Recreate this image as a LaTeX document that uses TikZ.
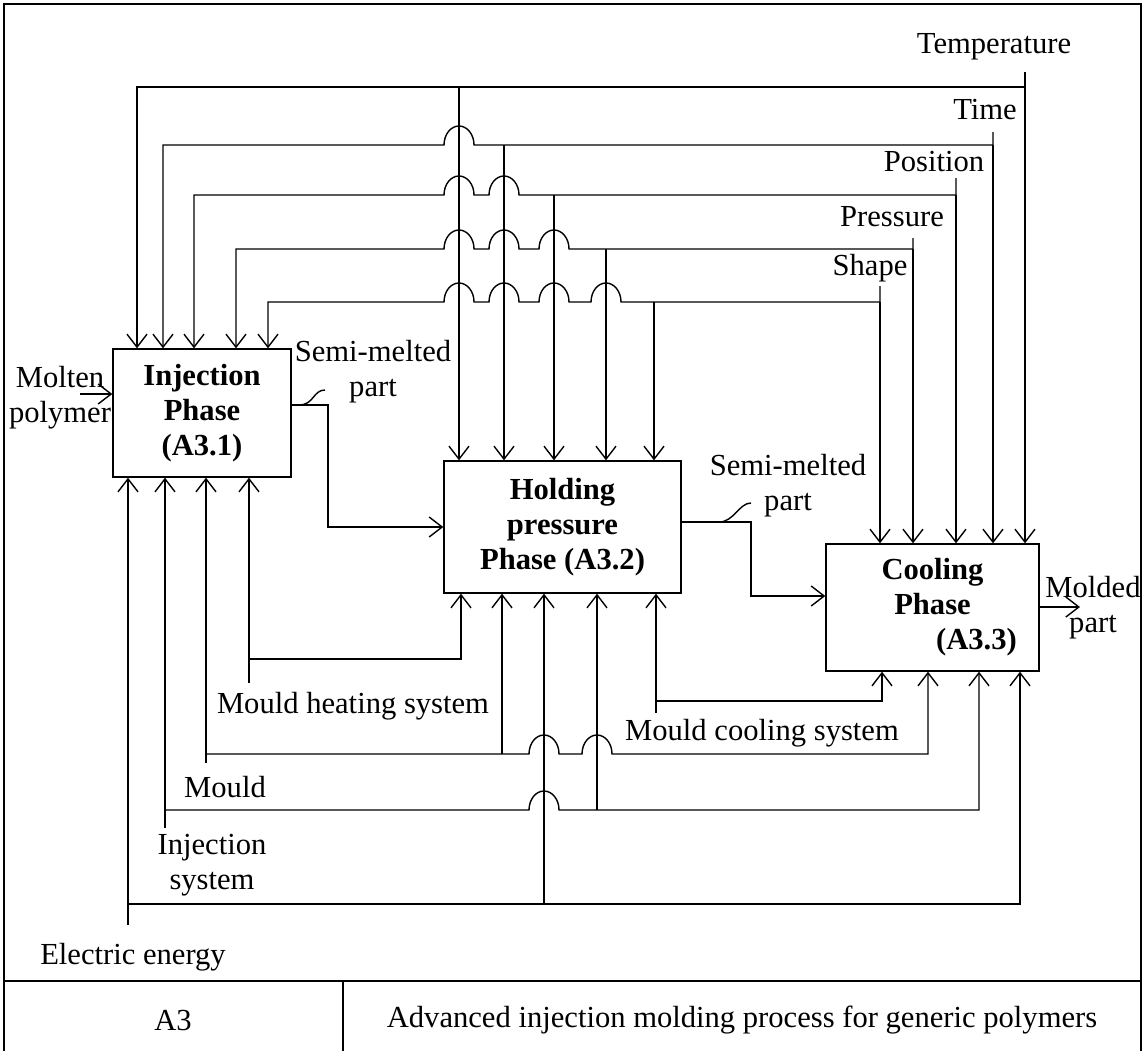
\documentclass[tikz,border=0pt]{standalone}
\usepackage{fontspec}
\setmainfont{Liberation Serif}
\usetikzlibrary{arrows.meta}

% hop over a crossing line, leftwards / rightwards
\newcommand{\hopl}{arc[start angle=0,end angle=-180,x radius=15,y radius=19]}
\newcommand{\hopr}{arc[start angle=180,end angle=360,x radius=15,y radius=19]}

\begin{document}
\begin{tikzpicture}[x=0.5pt, y=-0.5pt, line width=0.7pt,
    every node/.style={font=\fontsize{15.3}{17.5}\selectfont, inner sep=0pt},
    phase/.style={draw, align=center, font=\fontsize{15.3}{17.5}\selectfont\bfseries},
    lbl/.style={align=center},
    arr/.style={-{Straight Barb[length=6.5pt,width=10pt]}},
]
\useasboundingbox (0,0) rectangle (1144,1050);

% frame and title block
\draw (4,4) rectangle (1141,1056);
\draw (4,981) -- (1141,981);
\draw (343,981) -- (343,1056);
\node (id) at (173,1020) {A3};
\node (title) at (742,1020) {Advanced injection molding process for generic polymers};

% activities
\node[phase, minimum width=89pt, minimum height=64pt] (inj) at (202,413) {Injection\\Phase\\(A3.1)};
\node[phase, minimum width=118.5pt, minimum height=66pt] (hold) at (562.5,527) {Holding\\pressure\\Phase (A3.2)};
\node[phase, minimum width=106.5pt, minimum height=63.5pt] (cool) at (932.5,607.5) {Cooling\\Phase\\\hspace*{44pt}(A3.3)};

% labels
\node (temp) at (994,47) {Temperature};
\node (time) at (985,110) {Time};
\node (pos) at (934,162) {Position};
\node (pres) at (892,217) {Pressure};
\node (shape) at (870,268) {Shape};
\node[lbl] (molten) at (60,398) {Molten\\polymer};
\node[lbl] (semi1) at (373,372) {Semi-melted\\part};
\node[lbl] (semi2) at (788,486) {Semi-melted\\part};
\node[lbl] (molded) at (1093,608) {Molded\\part};
\node (heat) at (353,706) {Mould heating system};
\node (coolsys) at (762,733) {Mould cooling system};
\node (mould) at (225,787) {Mould};
\node[lbl] (isys) at (212,865) {Injection\\system};
\node (elec) at (133,957) {Electric energy};

% free ends
\coordinate (t-temp) at (1025,72);
\coordinate (t-time) at (993,132);
\coordinate (t-pos) at (956,178);
\coordinate (t-pres) at (913,238);
\coordinate (t-shape) at (880,286);
\coordinate (t-heat) at (249,683);
\coordinate (t-cool) at (656,713);
\coordinate (t-mould) at (206,763);
\coordinate (t-isys) at (165,828);
\coordinate (t-elec) at (128,925);
\coordinate (t-molten) at (80,394);
\coordinate (t-molded) at (1080,607);
\coordinate (sq1) at (299,405);
\coordinate (sq1e) at (325,390);
\coordinate (sq2) at (719,522);
\coordinate (sq2e) at (751,503);

% controls from above
\draw[arr] (t-temp) |- (137,87) -- (137,0 |- inj.north);
\draw[arr] (1025,87) -- (1025,0 |- cool.north);
\draw[arr] (459,87) -- (459,0 |- hold.north);

\draw[arr] (t-time) |- (474,145) \hopl -- (163,145) -- (163,0 |- inj.north);
\draw[arr] (993,145) -- (993,0 |- cool.north);
\draw[arr] (504,145) -- (504,0 |- hold.north);

\draw[arr] (t-pos) |- (519,195) \hopl -- (474,195) \hopl -- (194,195) -- (194,0 |- inj.north);
\draw[arr] (956,195) -- (956,0 |- cool.north);
\draw[arr] (554,195) -- (554,0 |- hold.north);

\draw[arr] (t-pres) |- (569,249) \hopl -- (519,249) \hopl -- (474,249) \hopl -- (236,249) -- (236,0 |- inj.north);
\draw[arr] (913,249) -- (913,0 |- cool.north);
\draw[arr] (606,249) -- (606,0 |- hold.north);

\draw[arr] (t-shape) |- (621,302) \hopl -- (569,302) \hopl -- (519,302) \hopl -- (474,302) \hopl -- (268,302) -- (268,0 |- inj.north);
\draw[arr] (880,302) -- (880,0 |- cool.north);
\draw[arr] (654,302) -- (654,0 |- hold.north);

% mechanisms from below
\draw[arr] (t-heat) -- (249,0 |- inj.south);
\draw[arr] (249,659) -| (461,0 |- hold.south);

\draw[arr] (t-cool) -- (656,0 |- hold.south);
\draw[arr] (656,701) -| (882,0 |- cool.south);

\draw[arr] (t-mould) -- (206,0 |- inj.south);
\draw[arr] (206,754) -- (529,754) \hopr -- (582,754) \hopr -- (928,754) -- (928,0 |- cool.south);
\draw[arr] (502,754) -- (502,0 |- hold.south);

\draw[arr] (t-isys) -- (165,0 |- inj.south);
\draw[arr] (165,810) -- (529,810) \hopr -- (979,810) -- (979,0 |- cool.south);
\draw[arr] (597,810) -- (597,0 |- hold.south);

\draw[arr] (t-elec) -- (128,0 |- inj.south);
\draw[arr] (128,904) -| (1020,0 |- cool.south);
\draw[arr] (544,904) -- (544,0 |- hold.south);

% inputs and outputs
\draw[arr] (t-molten) -- (t-molten -| inj.west);
\draw[arr] (inj.east |- sq1) -| (328,527) -- (hold.west |- 0,527);
\draw (sq1) .. controls +(15,0) and +(-12,0) .. (sq1e);
\draw[arr] (hold.east |- sq2) -| (751,596) -- (cool.west |- 0,596);
\draw (sq2) .. controls +(15,0) and +(-12,0) .. (sq2e);
\draw[arr] (cool.east |- t-molded) -- (t-molded);
\end{tikzpicture}
\end{document}
